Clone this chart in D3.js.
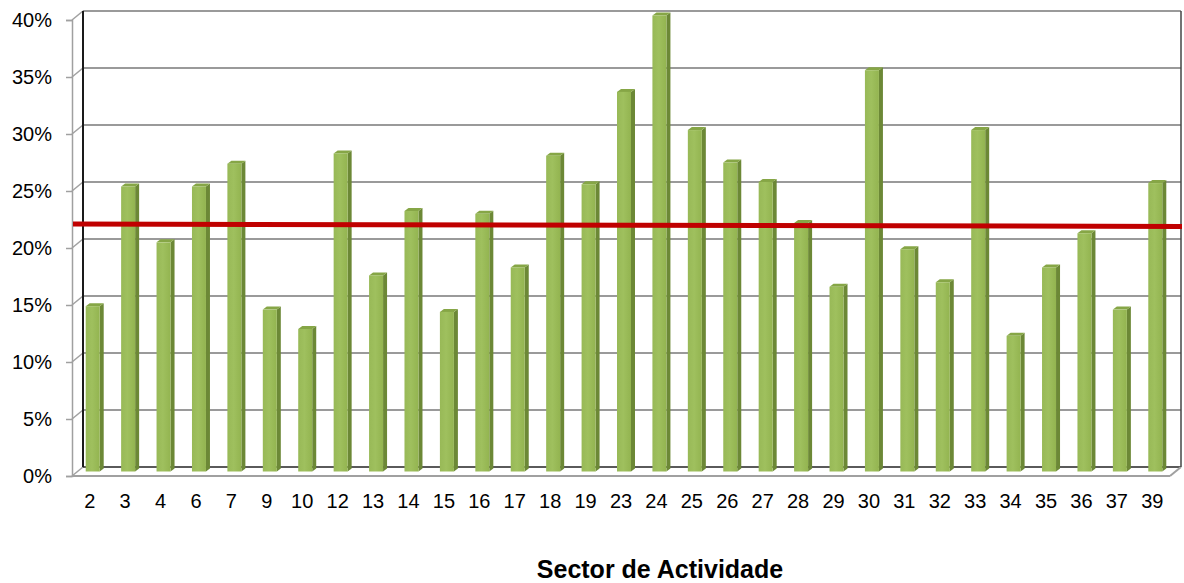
<!DOCTYPE html>
<html>
<head>
<meta charset="utf-8">
<script src="https://cdn.jsdelivr.net/npm/d3@7"></script>
<style>
  html, body { margin: 0; padding: 0; background: #fff; }
  svg { display: block; font-family: "Liberation Sans", Arial, sans-serif; }
</style>
</head>
<body>
<svg id="chart" width="1184" height="583"></svg>
<script>
// ---- data ----
const categories = ["2","3","4","6","7","9","10","12","13","14","15","16","17","18","19","23","24","25","26","27","28","29","30","31","32","33","34","35","36","37","39"];
const values = [0.145,0.250,0.201,0.250,0.270,0.142,0.125,0.279,0.172,0.2285,0.140,0.226,0.179,0.277,0.252,0.333,0.400,0.2995,0.271,0.254,0.218,0.162,0.352,0.195,0.166,0.2995,0.119,0.179,0.209,0.142,0.253];
const averageLine = [0.217, 0.215]; // red reference line, left end / right end
const yTicks = [0,0.05,0.10,0.15,0.20,0.25,0.30,0.35,0.40];
const xTitle = "Sector de Actividade";

// ---- layout ----
const svg = d3.select("#chart");
const frontLeft = 72, frontRight = 1170;
const depthX = 11, depthY = -9;
const front0 = 476, front40 = 20;

const x = d3.scaleBand().domain(categories).range([frontLeft, frontRight]).padding(0);
const yFront = d3.scaleLinear().domain([0, 0.40]).range([front0, front40]);
const yBack = d3.scaleLinear().domain([0, 0.40]).range([front0 + depthY, front40 + depthY]);
const yMid = d3.scaleLinear().domain([0, 0.40]).range([front0 - 4.5, front40 - 4.5]);

const backLeft = frontLeft + depthX, backRight = frontRight + depthX;

// back gridlines
svg.append("g").selectAll("line").data(yTicks.slice(1)).join("line")
  .attr("x1", backLeft).attr("x2", backRight)
  .attr("y1", d => yBack(d)).attr("y2", d => yBack(d))
  .attr("stroke", "#9a9a9a").attr("stroke-width", 2);

// side wall diagonals at each tick
svg.append("g").selectAll("line").data(yTicks).join("line")
  .attr("x1", frontLeft).attr("x2", backLeft)
  .attr("y1", d => yFront(d)).attr("y2", d => yBack(d))
  .attr("stroke", "#a0a0a0").attr("stroke-width", 1.5);

// floor back line
svg.append("line").attr("x1", backLeft).attr("x2", backRight)
  .attr("y1", yBack(0)).attr("y2", yBack(0))
  .attr("stroke", "#5a5a5a").attr("stroke-width", 2);
// floor front line + right diagonal
svg.append("line").attr("x1", frontLeft).attr("x2", frontRight)
  .attr("y1", yFront(0)).attr("y2", yFront(0))
  .attr("stroke", "#a0a0a0").attr("stroke-width", 2);
svg.append("line").attr("x1", frontRight).attr("x2", backRight)
  .attr("y1", yFront(0)).attr("y2", yBack(0))
  .attr("stroke", "#a0a0a0").attr("stroke-width", 2);

// back-left black vertical and back-right vertical
svg.append("line").attr("x1", backLeft).attr("x2", backLeft)
  .attr("y1", yBack(0.40)).attr("y2", yBack(0))
  .attr("stroke", "#1a1a1a").attr("stroke-width", 2);
svg.append("line").attr("x1", backRight).attr("x2", backRight)
  .attr("y1", yBack(0.40)).attr("y2", yBack(0))
  .attr("stroke", "#444").attr("stroke-width", 1.5);

// y axis (front)
const yAxis = d3.axisLeft(yFront).tickValues(yTicks).tickSize(6).tickPadding(14)
  .tickFormat(d3.format(".0%"));
const gy = svg.append("g").attr("transform", `translate(${frontLeft},0)`).call(yAxis);
gy.select(".domain").attr("stroke", "#a0a0a0").attr("stroke-width", 1.5);
gy.selectAll(".tick line").attr("stroke", "#a0a0a0").attr("stroke-width", 1.5);
gy.selectAll("text").attr("font-size", 20).attr("fill", "#000")
  .attr("font-family", "'Liberation Sans', Arial, sans-serif");

// bars
const faceW = 14, sideX = 4, sideY = -3, barShift = 3;
const defs = svg.append("defs");
const grad = defs.append("linearGradient").attr("id", "barFront").attr("x1", 0).attr("x2", 1).attr("y1", 0).attr("y2", 0);
grad.append("stop").attr("offset", "0%").attr("stop-color", "#98b957");
grad.append("stop").attr("offset", "45%").attr("stop-color", "#9fc05e");
grad.append("stop").attr("offset", "100%").attr("stop-color", "#93b450");

const data = categories.map((c, i) => ({ c, v: values[i] }));
const bars = svg.append("g").selectAll("g").data(data).join("g");
const bx = d => x(d.c) + x.bandwidth() / 2 - faceW / 2 + barShift;
bars.append("path").attr("fill", "#6c8836")
  .attr("d", d => {
    const x0 = bx(d) + faceW, yt = yMid(d.v), yb = yMid(0);
    return `M${x0},${yt}L${x0 + sideX},${yt + sideY}L${x0 + sideX},${yb + sideY}L${x0},${yb}Z`;
  });
bars.append("path").attr("fill", "#86a646")
  .attr("d", d => {
    const x0 = bx(d), yt = yMid(d.v);
    return `M${x0},${yt}L${x0 + sideX},${yt + sideY}L${x0 + faceW + sideX},${yt + sideY}L${x0 + faceW},${yt}Z`;
  });
bars.append("rect").attr("fill", "url(#barFront)")
  .attr("x", bx).attr("width", faceW)
  .attr("y", d => yMid(d.v)).attr("height", d => yMid(0) - yMid(d.v));

// red average line
const xLine = d3.scaleLinear().domain([0, 1]).range([frontLeft + 1, backRight + 1]);
svg.append("path").datum(averageLine)
  .attr("fill", "none").attr("stroke", "#c00000").attr("stroke-width", 5)
  .attr("d", d3.line().x((d, i) => xLine(i)).y(d => yMid(d)));

// x axis labels
const xAxis = d3.axisBottom(x).tickSize(0).tickPadding(18);
const gx = svg.append("g").attr("transform", `translate(0,${front0})`).call(xAxis);
gx.select(".domain").remove();
gx.selectAll("text").attr("font-size", 20).attr("fill", "#000")
  .attr("font-family", "'Liberation Sans', Arial, sans-serif");

// x title
svg.append("text").attr("x", 660).attr("y", 578).attr("text-anchor", "middle")
  .attr("font-size", 25).attr("font-weight", "bold").attr("fill", "#000")
  .text(xTitle);
</script>
</body>
</html>
